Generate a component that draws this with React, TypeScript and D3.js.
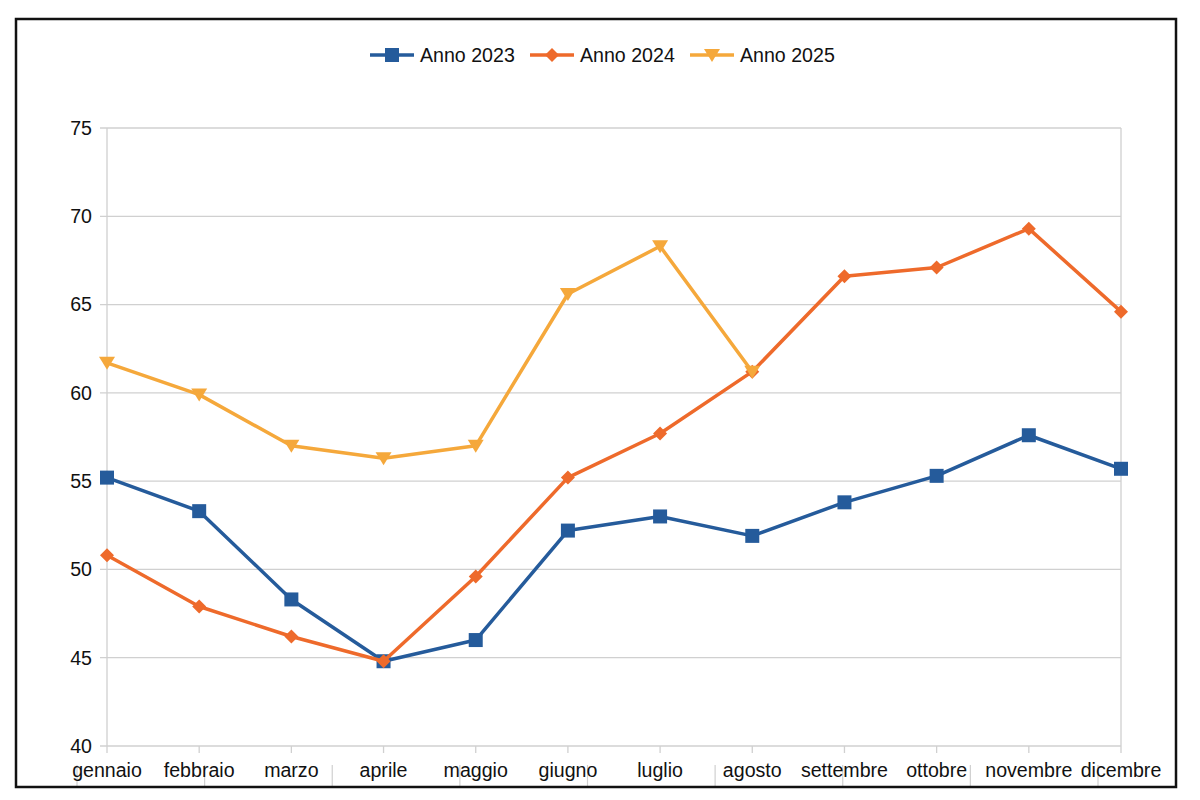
import React from 'react';
import * as d3 from 'd3';

const months = [
  'gennaio', 'febbraio', 'marzo', 'aprile', 'maggio', 'giugno',
  'luglio', 'agosto', 'settembre', 'ottobre', 'novembre', 'dicembre',
];

const anno2023 = [55.2, 53.3, 48.3, 44.8, 46.0, 52.2, 53.0, 51.9, 53.8, 55.3, 57.6, 55.7];
const anno2024 = [50.8, 47.9, 46.2, 44.8, 49.6, 55.2, 57.7, 61.2, 66.6, 67.1, 69.3, 64.6];
const anno2025 = [61.7, 59.9, 57.0, 56.3, 57.0, 65.6, 68.3, 61.2];

const yTicks = [40, 45, 50, 55, 60, 65, 70, 75];

type Marker = 'square' | 'diamond' | 'triangle';

const series: { name: string; values: number[]; color: string; marker: Marker }[] = [
  { name: 'Anno 2023', values: anno2023, color: '#255b9b', marker: 'square' },
  { name: 'Anno 2024', values: anno2024, color: '#ee6a2b', marker: 'diamond' },
  { name: 'Anno 2025', values: anno2025, color: '#f5a83b', marker: 'triangle' },
];

const W = 1200;
const H = 800;
const plot = { left: 107, right: 1121, top: 128, bottom: 746 };
const FONT = '"Liberation Sans", Arial, Helvetica, sans-serif';
const GRID = '#d0d0d0';
const FS = 19.6;

const markerPath = (m: Marker) => {
  if (m === 'square') return 'M-7,-7H7V7H-7Z';
  if (m === 'diamond') return 'M0,-7L7,0L0,7L-7,0Z';
  return 'M-8,-6H8L0,7Z';
};

export default function App() {
  const x = d3.scalePoint<string>().domain(months).range([plot.left, plot.right]);
  const y = d3.scaleLinear().domain([40, 75]).range([plot.bottom, plot.top]);
  // faint second row of separators under the month labels
  const sep = d3.scaleLinear().domain([0, 8]).range([77, 1098]);

  const line = d3
    .line<number>()
    .x((_, i) => x(months[i]) as number)
    .y((d) => y(d));

  const legendX = [370, 530, 690];

  return (
    <div style={{ position: 'fixed', left: 0, top: 0 }}>
      <svg width={W} height={H} style={{ display: 'block', fontFamily: FONT }}>
        <rect width={W} height={H} fill="white" />

        {/* gridlines */}
        {yTicks.map((t) => (
          <g key={t}>
            <line x1={plot.left - 7} x2={plot.right} y1={y(t)} y2={y(t)} stroke={GRID} strokeWidth={1.3} />
            <text x={92} y={y(t)} dy="0.35em" textAnchor="end" fontSize={FS} fill="#111">
              {t}
            </text>
          </g>
        ))}
        <line x1={plot.left} x2={plot.left} y1={plot.top} y2={plot.bottom} stroke={GRID} strokeWidth={1.3} />
        <line x1={plot.right} x2={plot.right} y1={plot.top} y2={plot.bottom} stroke={GRID} strokeWidth={1.3} />

        {/* x ticks and labels */}
        {d3.range(0, 9).map((i) => (
          <line key={i} x1={sep(i)} x2={sep(i)} y1={765} y2={786} stroke={GRID} strokeWidth={1.2} />
        ))}
        {months.map((m) => (
          <g key={m}>
            <line x1={x(m)} x2={x(m)} y1={plot.bottom} y2={plot.bottom + 7} stroke={GRID} strokeWidth={1.3} />
            <text x={x(m)} y={777} textAnchor="middle" fontSize={FS} fill="#111">
              {m}
            </text>
          </g>
        ))}

        {/* series */}
        {series.map((s) => (
          <g key={s.name}>
            <path d={line(s.values) || ''} fill="none" stroke={s.color} strokeWidth={3.5} strokeLinejoin="round" />
            {s.values.map((v, i) => (
              <path
                key={i}
                d={markerPath(s.marker)}
                transform={`translate(${x(months[i])},${y(v)})`}
                fill={s.color}
              />
            ))}
          </g>
        ))}

        {/* legend */}
        {series.map((s, i) => (
          <g key={s.name} transform={`translate(${legendX[i]},55)`}>
            <line x1={0} x2={44} y1={0} y2={0} stroke={s.color} strokeWidth={3.5} />
            <path d={markerPath(s.marker)} transform="translate(22,0)" fill={s.color} />
            <text x={50} y={0} dy="0.35em" fontSize={FS} fill="#111">
              {s.name}
            </text>
          </g>
        ))}

        <rect x={16} y={19} width={1160} height={768} fill="none" stroke="#111" strokeWidth={2.5} />
      </svg>
    </div>
  );
}
